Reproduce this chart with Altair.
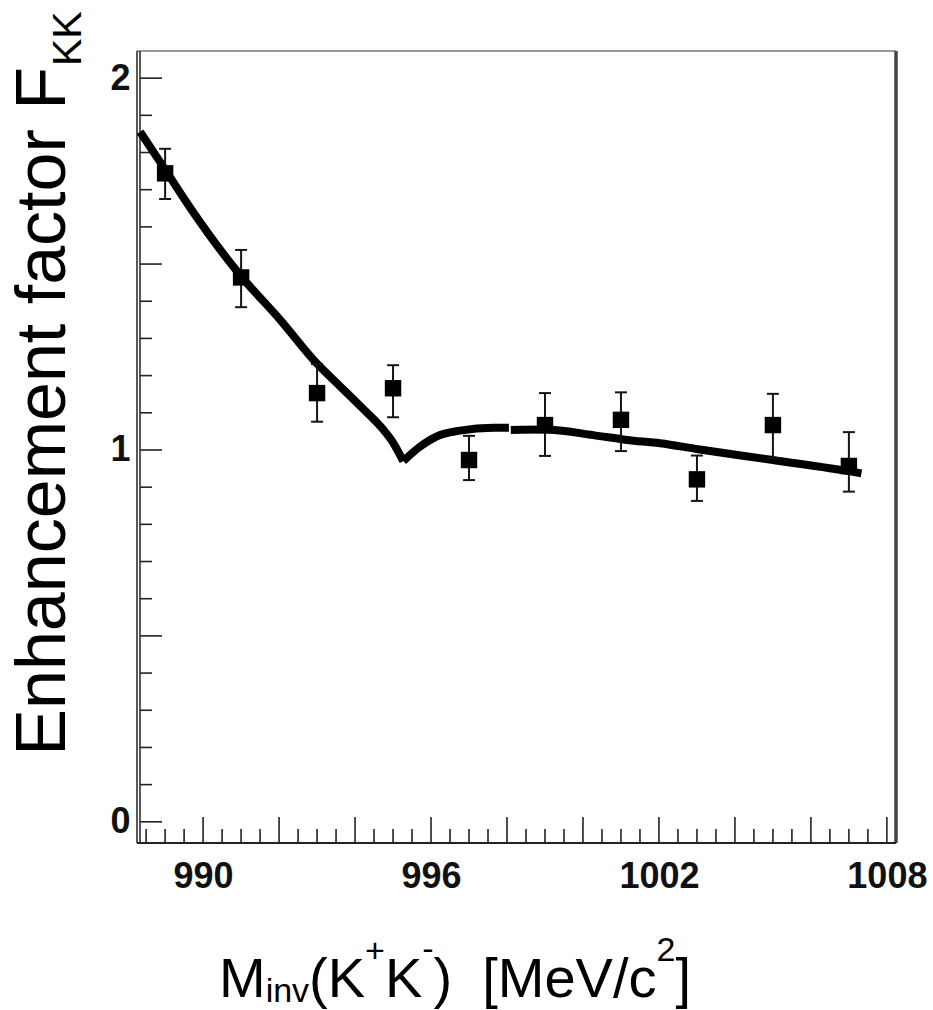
import altair as alt
import pandas as pd

# ---- data ----
mass = [989, 991, 993, 995, 997, 999, 1001, 1003, 1005, 1007]
factor = [1.744, 1.464, 1.153, 1.166, 0.973, 1.067, 1.081, 0.921, 1.067, 0.957]
err_lo = [1.675, 1.384, 1.076, 1.088, 0.919, 0.984, 0.997, 0.863, 0.978, 0.888]
err_hi = [1.810, 1.538, 1.231, 1.228, 1.038, 1.153, 1.155, 0.985, 1.151, 1.048]

# fit curve: falling branch to the K0 threshold cusp, rising branch, tail
fit_a_x = [988.34, 988.95, 989.61, 990.97, 992.03, 992.99, 993.60, 994.17, 994.70, 995.00, 995.27]
fit_a_y = [1.856, 1.762, 1.659, 1.471, 1.350, 1.233, 1.172, 1.115, 1.060, 1.020, 0.970]
fit_b_x = [995.27, 995.71, 996.14, 996.76, 997.64, 998.05]
fit_b_y = [0.970, 1.009, 1.036, 1.052, 1.060, 1.060]
fit_c_x = [998.10, 999.00, 1000.27, 1001.15, 1002.03, 1003.03, 1005.00, 1007.11, 1007.33]
fit_c_y = [1.054, 1.055, 1.040, 1.027, 1.018, 1.002, 0.973, 0.941, 0.937]

x_labels = [990, 996, 1002, 1008]
x_major = [990, 992, 994, 996, 998, 1000, 1002, 1004, 1006, 1008]
x_minor = [988.5, 989, 989.5, 990.5, 991, 991.5, 992.5, 993, 993.5, 994.5, 995, 995.5,
           996.5, 997, 997.5, 998.5, 999, 999.5, 1000.5, 1001, 1001.5, 1002.5, 1003,
           1003.5, 1004.5, 1005, 1005.5, 1006.5, 1007, 1007.5]
y_labels = [0, 1, 2]
y_major = [0, 0.5, 1, 1.5, 2]
y_minor = [0.1, 0.2, 0.3, 0.4, 0.6, 0.7, 0.8, 0.9, 1.1, 1.2, 1.3, 1.4, 1.6, 1.7, 1.8, 1.9]

W, H = 759, 792
XDOM = [988.26, 1008.24]
YDOM = [-0.057, 2.073]

pts = pd.DataFrame({"m": mass, "f": factor, "lo": err_lo, "hi": err_hi})
fit = pd.DataFrame({
    "m": fit_a_x + fit_b_x + fit_c_x,
    "f": fit_a_y + fit_b_y + fit_c_y,
    "seg": ["a"] * len(fit_a_x) + ["b"] * len(fit_b_x) + ["c"] * len(fit_c_x),
})

FONT = "Liberation Sans"
xaxis = alt.Axis(values=x_labels, format="d", ticks=False, tickSize=0, domain=False, grid=False,
                 title=None, labelFont=FONT, labelFontSize=36,
                 labelFontWeight="bold", labelColor="#111", labelBaseline="alphabetic",
                 labelPadding=44, labelFlush=False, labelOverlap=False)
yaxis = alt.Axis(values=y_labels, format="d", ticks=False, tickSize=0, domain=False, grid=False,
                 title=None, labelFont=FONT, labelFontSize=36,
                 labelFontWeight="bold", labelColor="#111", labelPadding=7,
                 labelFlush=False, labelOverlap=False)


def X(field):
    return alt.X(field, type="quantitative", scale=alt.Scale(domain=XDOM, nice=False, zero=False), axis=xaxis)


def Y(field):
    return alt.Y(field, type="quantitative", scale=alt.Scale(domain=YDOM, nice=False, zero=False), axis=yaxis)


curve = alt.Chart(fit).mark_line(color="black", strokeWidth=8, strokeCap="butt",
                                 strokeJoin="round", interpolate="monotone").encode(
    x=X("m"), y=Y("f"), detail="seg:N")

ebar = alt.Chart(pts).mark_rule(color="#151515", strokeWidth=2).encode(
    x=X("m"), y=Y("lo"), y2="hi")
cap_lo = alt.Chart(pts).mark_rule(color="#151515", strokeWidth=2, xOffset=-6, x2Offset=6).encode(
    x=X("m"), x2="m", y=Y("lo"))
cap_hi = alt.Chart(pts).mark_rule(color="#151515", strokeWidth=2, xOffset=-6, x2Offset=6).encode(
    x=X("m"), x2="m", y=Y("hi"))
marks = alt.Chart(pts).mark_square(color="black", size=270, opacity=1).encode(
    x=X("m"), y=Y("f"))

# inward ticks
xmaj = alt.Chart(pd.DataFrame({"v": x_major})).mark_rule(color="#222", strokeWidth=1.6).encode(
    x=X("v"), y=alt.value(H), y2=alt.value(H - 26))
xmin = alt.Chart(pd.DataFrame({"v": x_minor})).mark_rule(color="#222", strokeWidth=1.6).encode(
    x=X("v"), y=alt.value(H), y2=alt.value(H - 14))
ymaj = alt.Chart(pd.DataFrame({"v": y_major})).mark_rule(color="#222", strokeWidth=1.6).encode(
    y=Y("v"), x=alt.value(3), x2=alt.value(25))
ymin = alt.Chart(pd.DataFrame({"v": y_minor})).mark_rule(color="#222", strokeWidth=1.6).encode(
    y=Y("v"), x=alt.value(3), x2=alt.value(15))

one = pd.DataFrame({"k": [0]})


def frame_line(x1, x2, y1, y2, color, sw):
    return alt.Chart(one).mark_rule(color=color, strokeWidth=sw).encode(
        x=alt.value(x1), x2=alt.value(x2), y=alt.value(y1), y2=alt.value(y2))


frame = [
    frame_line(0, W, 0, 0, "#777", 1.5),          # top
    frame_line(W, W, 0, H, "#444", 3.5),          # right
    frame_line(0, W, H, H, "#222", 2),            # bottom
    frame_line(0, 0, 0, H, "#222", 1.5),          # left outer
    frame_line(3, 3, 0, H, "#222", 1.5),          # left inner axis line
]


def txt(s, x, y, size, angle=0, align="left"):
    return alt.Chart(one).mark_text(
        font=FONT, fontSize=size, angle=angle, align=align, baseline="alphabetic",
        color="black").encode(text=alt.value(s), x=alt.value(x), y=alt.value(y))


L, T = 137, 51

# x title pieces laid out left to right using Arial-compatible advance widths
ADV = {"M": .833, "i": .222, "n": .556, "v": .5, "(": .333, ")": .333, "K": .667,
       "+": .584, "-": .333, "[": .278, "]": .278, "e": .556, "V": .667, "/": .278,
       "c": .5, "2": .556, " ": .278}
BIG, SMALL = 56, 34
pieces = [  # text, size, baseline (absolute px), extra gap before
    ("M", BIG, 996.7, 0),
    ("inv", SMALL, 1002, 0),
    ("(K", BIG, 996.7, 0),
    ("+", SMALL, 962, 0),
    ("K", BIG, 996.7, 0),
    ("-", SMALL, 960, 0),
    (")", BIG, 996.7, 0),
    ("[MeV/c", BIG, 996.7, 30),
    ("2", SMALL, 961, 0),
    ("]", BIG, 996.7, 0),
]
widths = [sum(ADV[ch] for ch in s) * sz + gap for s, sz, _, gap in pieces]
cx = 455 - sum(widths) / 2
titles = []
for (s, sz, base, gap), w in zip(pieces, widths):
    cx += gap
    titles.append(txt(s, cx - L, base - T, sz))
    cx += w - gap

# y title, rotated
titles.append(txt("Enhancement factor F", 65 - L, 67 - T, 70, angle=270, align="right"))
titles.append(txt("KK", 81 - L, 66 - T, 41, angle=270, align="left"))

chart = alt.layer(
    *frame, xmin, xmaj, ymin, ymaj, curve, ebar, cap_lo, cap_hi, marks, *titles
).properties(
    width=W, height=H,
    autosize=alt.AutoSizeParams(type="none"),
    padding={"left": L, "top": T, "right": 933 - L - W, "bottom": 1010 - T - H},
    background="white",
).configure_view(stroke=None)

chart.save("out.html", embed_options={"renderer": "svg", "actions": False})
